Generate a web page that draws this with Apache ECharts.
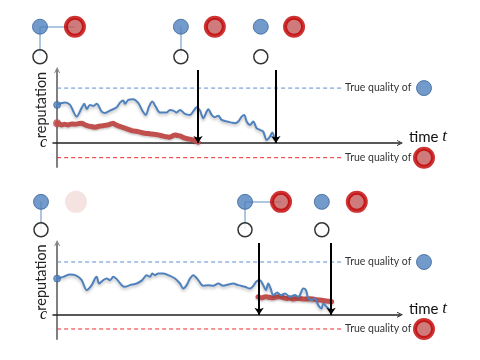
<!DOCTYPE html>
<html><head><meta charset="utf-8">
<script src="https://cdn.jsdelivr.net/npm/echarts@6/dist/echarts.min.js"></script>
<style>html,body{margin:0;padding:0;background:#fff}#c{width:480px;height:360px}</style>
</head><body><div id="c"></div>
<script>
// ---- data (time t, reputation; c = 0) ----
const topBlue = [[0,0.693],[2.3,0.735],[3.76,0.693],[5.71,0.48],[7.17,0.639],[7.93,0.712],[8.63,0.62],[9.59,0.693],[10.55,0.675],[11.55,0.712],[13.0,0.571],[13.97,0.547],[15.42,0.589],[17.38,0.651],[18.34,0.735],[19.3,0.772],[19.8,0.712],[20.76,0.785],[22.2,0.797],[23.7,0.724],[24.84,0.589],[25.83,0.511],[26.8,0.662],[27.76,0.754],[28.75,0.662],[30.0,0.553],[31.95,0.553],[32.9,0.602],[33.88,0.589],[34.87,0.553],[35.83,0.602],[37.29,0.529],[38.75,0.511],[40.0,0.602],[40.7,0.651],[41.66,0.589],[42.62,0.451],[43.62,0.571],[44.08,0.615],[45.07,0.511],[46.03,0.469],[47.0,0.493],[47.99,0.42],[49.45,0.389],[50.9,0.37],[51.87,0.359],[52.83,0.389],[53.82,0.48],[54.58,0.511],[55.28,0.389],[56.24,0.328],[57.2,0.389],[58.19,0.268],[59.15,0.237],[60.12,0.206],[61.1,0.055],[62.07,0.115],[62.74,0.188],[63.53,0.055]];
const topRed = [[0,0.359],[0.7,0.345],[1.34,0.328],[2.2,0.338],[3.18,0.328],[4.2,0.345],[5.22,0.341],[6.2,0.35],[7.17,0.359],[8.1,0.33],[9.0,0.31],[10,0.298],[11.05,0.286],[12,0.3],[13,0.31],[13.9,0.32],[14.84,0.328],[15.6,0.345],[16.38,0.359],[17.1,0.33],[17.84,0.31],[18.8,0.29],[19.8,0.268],[20.8,0.245],[21.75,0.224],[22.7,0.215],[23.67,0.206],[24.6,0.19],[25.63,0.177],[26.6,0.17],[27.58,0.164],[28.5,0.155],[29.5,0.146],[30.5,0.13],[31.46,0.115],[32.2,0.11],[32.9,0.104],[33.6,0.125],[34.37,0.146],[35.1,0.135],[35.83,0.128],[36.6,0.105],[37.29,0.086],[38,0.075],[38.75,0.068],[39.5,0.055],[40.2,0.042],[41.17,0.013]];
const botBlue = [[0,0.686],[1.81,0.718],[3.76,0.762],[5.71,0.737],[7.17,0.656],[8.63,0.467],[10.09,0.561],[11.05,0.686],[11.55,0.718],[12.22,0.592],[13.47,0.656],[14.46,0.686],[15.42,0.656],[16.38,0.718],[17.38,0.675],[18.83,0.561],[19.8,0.529],[21.25,0.561],[23.2,0.592],[24.84,0.656],[26.12,0.75],[27.08,0.718],[27.76,0.781],[28.54,0.75],[29.5,0.781],[30.96,0.781],[32.92,0.737],[34.37,0.686],[35.83,0.592],[36.79,0.497],[37.78,0.561],[38.75,0.686],[39.71,0.75],[41.17,0.656],[42.62,0.548],[44.08,0.561],[45.54,0.548],[47.0,0.592],[48.45,0.548],[49.91,0.573],[51.37,0.592],[52.83,0.561],[54.78,0.529],[56.24,0.497],[57.2,0.548],[58.19,0.637],[59.15,0.656],[60.12,0.561],[60.9,0.467],[61.57,0.592],[62.27,0.497],[63.03,0.372],[64.2,0.422],[65.19,0.372],[66.44,0.403],[67.9,0.34],[69.36,0.372],[70.32,0.34],[70.82,0.372],[71.78,0.497],[72.57,0.467],[73.24,0.308],[74.23,0.278],[75.19,0.308],[76.15,0.183],[77.14,0.119],[77.61,0.214],[78.6,0.151],[79.56,0.089],[80.0,0.04]];
const botRed = [[58.6,0.34],[59.65,0.321],[60.4,0.335],[61.1,0.34],[62,0.325],[63.0,0.321],[64,0.335],[65.0,0.34],[66,0.322],[66.94,0.308],[67.9,0.315],[68.86,0.297],[69.8,0.31],[70.8,0.308],[71.8,0.3],[72.77,0.297],[73.7,0.305],[74.7,0.297],[75.7,0.285],[76.65,0.278],[77.6,0.27],[78.6,0.259],[79.3,0.255],[80.06,0.246]];

const blueQuality = 1.0;
const redQuality = -0.27;
const qualityLineEnd = 83.4;
const qualityIconT = 107;

const topArrows = [41.1, 63.8];
const botArrows = [58.9, 79.9];

const topBlueIcons = [-5.0, 36.1, 59.4];
const topRedIcons = [5.2, 46.0, 69.1];
const topFadedIcons = [];
const topPartnerLinks = [[-5.0, 5.2]];
const topUserLinks = [-5.0, 36.1];
const topIconRows = [2.12, 1.57];

const botBlueIcons = [-4.7, 54.8, 77.2];
const botRedIcons = [65.3, 87.4];
const botFadedIcons = [5.5];
const botPartnerLinks = [[54.8, 65.3]];
const botUserLinks = [-4.7, 54.8];
const botIconRows = [2.14, 1.61];

const yRanges = [[-0.44, 1.33], [-0.46, 1.36]];

// ---- styles ----
const BLUE = '#4f81bd', RED = '#c0504d';
const chevron = 'path://M0,10L5,0L10,10L8.4,10L5,3.2L1.6,10Z';

function panel(p, d) {
  const ax = {xAxisIndex: p, yAxisIndex: p};
  const s = [];
  const lbl = {show:true, formatter:'True quality of', distance:2, fontFamily:'Lato', fontSize:10.5, color:'#333'};
  s.push(Object.assign({type:'line', data:[[0,blueQuality],[qualityLineEnd,blueQuality]], symbol:'none', silent:true,
    lineStyle:{color:'#5a8ed4', width:1, type:[4,3]}, endLabel:lbl}, ax));
  s.push(Object.assign({type:'line', data:[[0,redQuality],[qualityLineEnd,redQuality]], symbol:'none', silent:true,
    lineStyle:{color:'#ee2a2a', width:1, type:[4,3]}, endLabel:lbl}, ax));
  s.push(Object.assign({type:'lines', coordinateSystem:'cartesian2d', clip:false, z:5,
    symbol:['none','arrow'], symbolSize:7,
    lineStyle:{color:'#000', width:2, opacity:1},
    data: d.arrows.map(t => ({coords:[[t, yRanges[p][1]],[t, 0]]}))}, ax));
  const links = d.partnerLinks.map(l => ({coords:[[l[0], d.rows[0]],[l[1], d.rows[0]]]}))
    .concat(d.userLinks.map(t => ({coords:[[t, d.rows[0]],[t, d.rows[1]]]})));
  s.push(Object.assign({type:'lines', coordinateSystem:'cartesian2d', clip:false, z:2,
    lineStyle:{color:'#95b3d7', width:1.5, opacity:1}, data: links}, ax));
  s.push(Object.assign({type:'line', data:d.red, symbol:'none', smooth:0.2, z:3,
    lineStyle:{color:RED, width:5, cap:'round', shadowColor:'rgba(0,0,0,0.2)', shadowBlur:2, shadowOffsetY:1.5}}, ax));
  s.push(Object.assign({type:'line', data:d.blue, symbol:'none', smooth:0.3, z:4,
    lineStyle:{color:BLUE, width:2, shadowColor:'rgba(0,0,0,0.25)', shadowBlur:3, shadowOffsetY:2}}, ax));
  s.push(Object.assign({type:'scatter', data:[d.blue[0]], symbolSize:7, z:6,
    itemStyle:{color:BLUE, borderColor:'#36649b', borderWidth:0.8}}, ax));
  if (d.red[0][0] === 0) s.push(Object.assign({type:'scatter', data:[d.red[0]], symbolSize:8, z:6,
    itemStyle:{color:RED}}, ax));
  s.push(Object.assign({type:'scatter', clip:false, z:10, symbolSize:15,
    itemStyle:{color:BLUE, borderColor:'#3a679e', borderWidth:1},
    data: d.blueIcons.map(t => [t, d.rows[0]]).concat([[qualityIconT, blueQuality]])}, ax));
  s.push(Object.assign({type:'scatter', clip:false, z:10, symbolSize:14,
    itemStyle:{color:'#fff', borderColor:'#000', borderWidth:1.5},
    data: d.blueIcons.map(t => [t, d.rows[1]])}, ax));
  s.push(Object.assign({type:'scatter', clip:false, z:10, symbolSize:18,
    itemStyle:{color:'#c45a5a', borderColor:'#c00000', borderWidth:4},
    data: d.redIcons.map(t => [t, d.rows[0]]).concat([[qualityIconT, redQuality]])}, ax));
  if (d.fadedIcons.length) s.push(Object.assign({type:'scatter', clip:false, z:10, symbolSize:22,
    itemStyle:{color:'#f2dcdb'},
    data: d.fadedIcons.map(t => [t, d.rows[0]])}, ax));
  return s;
}

const series = panel(0, {blue:topBlue, red:topRed, arrows:topArrows, partnerLinks:topPartnerLinks, userLinks:topUserLinks,
    rows:topIconRows, blueIcons:topBlueIcons, redIcons:topRedIcons, fadedIcons:topFadedIcons})
  .concat(panel(1, {blue:botBlue, red:botRed, arrows:botArrows, partnerLinks:botPartnerLinks, userLinks:botUserLinks,
    rows:botIconRows, blueIcons:botBlueIcons, redIcons:botRedIcons, fadedIcons:botFadedIcons}));

function xAxis(i) {
  return {type:'value', gridIndex:i, min:-1.2, max:100,
    axisLine:{onZero:true, lineStyle:{color:'#222', width:1.5}, symbol:['none', chevron], symbolSize:[7,6]},
    axisTick:{show:false}, axisLabel:{show:false}, splitLine:{show:false},
    name:'{n|time }{i|t}', nameLocation:'end', nameGap:9, nameMoveOverlap:false,
    nameTextStyle:{padding:[0,0,12,0], rich:{n:{fontFamily:'Lato', fontSize:15, color:'#111'}, i:{fontFamily:'Liberation Serif', fontStyle:'italic', fontSize:17, color:'#111'}}}};
}
function yAxis(i) {
  return {type:'value', gridIndex:i, min:yRanges[i][0], max:yRanges[i][1],
    axisLine:{onZero:true, lineStyle:{color:'#808080', width:2}, symbol:['none', chevron], symbolSize:[7,6]},
    axisTick:{show:false}, splitLine:{show:false},
    axisLabel:{customValues:[0], formatter: v => Math.abs(v) < 1e-9 ? 'c' : '', margin:6,
      fontFamily:'Liberation Serif', fontStyle:'italic', fontSize:16, color:'#111'},
    name:'reputation', nameLocation:'middle', nameGap:4, nameMoveOverlap:false,
    nameTextStyle:{fontFamily:'Lato', fontSize:14.5, color:'#222', padding:[0,0,0,27]}};
}

const chart = echarts.init(document.getElementById('c'), null, {renderer:'canvas'});
chart.setOption({
  animation:false,
  backgroundColor:'#fff',
  grid:[{left:53, top:70, width:347, height:97}, {left:53, top:243, width:347, height:96}],
  xAxis:[xAxis(0), xAxis(1)],
  yAxis:[yAxis(0), yAxis(1)],
  series: series
});
</script></body></html>
